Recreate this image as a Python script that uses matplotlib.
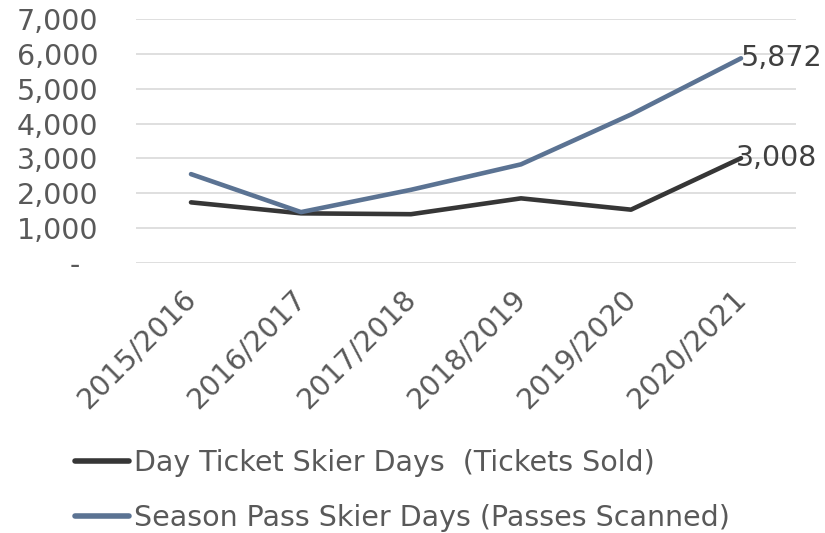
import matplotlib
matplotlib.use("Agg")
import matplotlib.pyplot as plt
from matplotlib.ticker import FuncFormatter, MultipleLocator
from matplotlib.transforms import ScaledTranslation

plt.rcParams['font.family'] = ['DejaVu Sans']

seasons = ["2015/2016", "2016/2017", "2017/2018", "2018/2019", "2019/2020", "2020/2021"]
day_ticket = [1740, 1425, 1400, 1855, 1530, 3008]
season_pass = [2550, 1460, 2100, 2830, 4260, 5872]
series_names = ["Day Ticket Skier Days  (Tickets Sold)", "Season Pass Skier Days (Passes Scanned)"]

dark = "#363636"
blue = "#5b7393"
txt = "#595959"
FS = 20.5

fig = plt.figure(figsize=(8.25, 5.33), dpi=100)
ax = fig.add_axes([136/825, 1-263/533, 660/825, 244/533])

x = list(range(len(seasons)))
l1, = ax.plot(x, day_ticket, color=dark, lw=3.3, solid_capstyle='round', solid_joinstyle='round')
l2, = ax.plot(x, season_pass, color=blue, lw=3.3, solid_capstyle='round', solid_joinstyle='round')

ax.set_xlim(-0.5, len(seasons)-0.5)
ax.set_ylim(0, 7000)
ax.yaxis.set_major_locator(MultipleLocator(1000))
ax.yaxis.set_major_formatter(FuncFormatter(lambda v, p: "-  " if v == 0 else f"{int(v):,}"))
ax.grid(axis='y', color='#d9d9d9', lw=1.2)
ax.set_axisbelow(True)
for s in ax.spines.values():
    s.set_visible(False)
ax.tick_params(axis='both', length=0, labelsize=FS, colors=txt)
ax.tick_params(axis='y', pad=27)
ax.set_xticks(x)
ax.set_xticklabels(seasons, rotation=45, ha='right', rotation_mode='anchor')
ax.tick_params(axis='x', pad=15)
shift = ScaledTranslation(-9/100, 0, fig.dpi_scale_trans)
for lab in ax.get_xticklabels():
    lab.set_transform(lab.get_transform() + shift)

ax.text(x[-1], season_pass[-1], f"{season_pass[-1]:,}", fontsize=FS, color="#404040",
        ha='left', va='center')
ax.text(x[-1] - 0.05, day_ticket[-1], f"{day_ticket[-1]:,}", fontsize=FS, color="#404040",
        ha='left', va='center')

leg = fig.legend([l1, l2], series_names, loc='upper left', bbox_to_anchor=(75/825, 1-449/533),
                 frameon=False, fontsize=FS, handlelength=1.9, handletextpad=0.17,
                 labelspacing=0.95, labelcolor=txt, borderpad=0, borderaxespad=0)
for h in leg.get_lines():
    h.set_linewidth(4)

fig.savefig("out.png", dpi=100)
